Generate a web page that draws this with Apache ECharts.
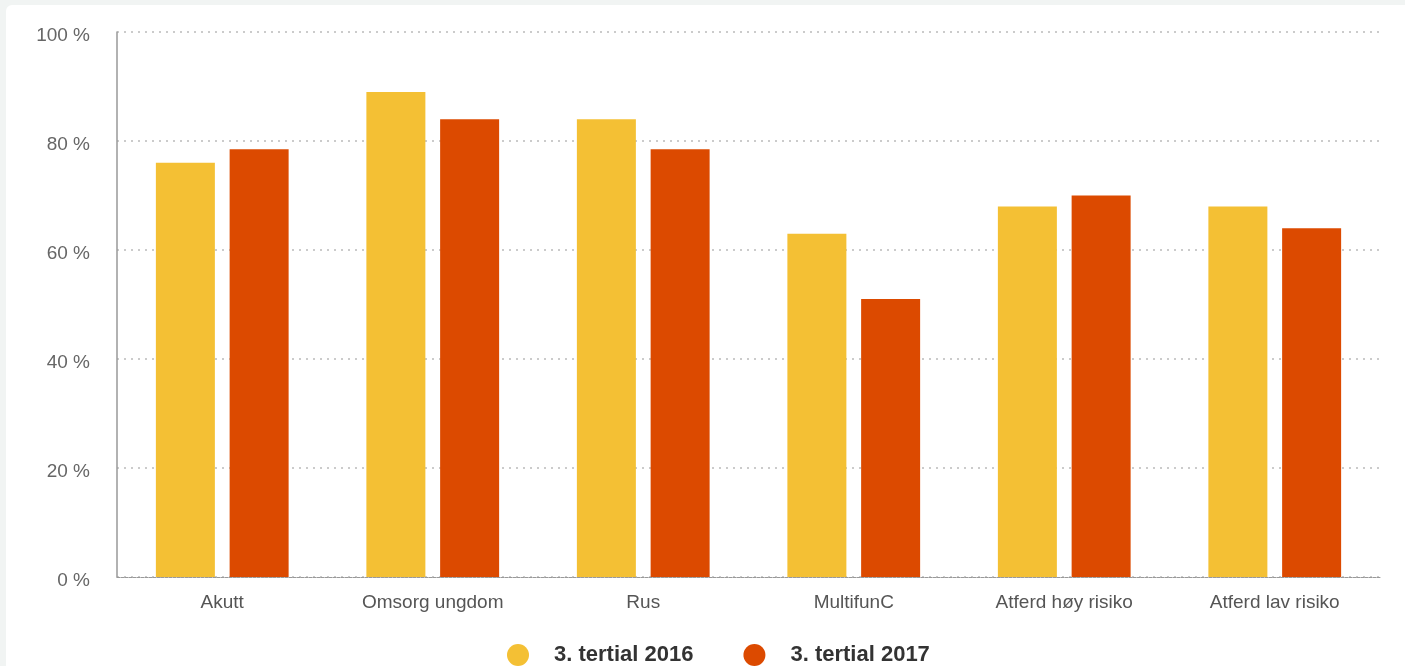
<!DOCTYPE html>
<html>
<head>
<meta charset="utf-8">
<script src="https://cdn.jsdelivr.net/npm/echarts@6/dist/echarts.min.js"></script>
<style>
  html, body { margin: 0; padding: 0; background: #f1f4f3; width: 1405px; height: 666px; overflow: hidden; }
  #panel { position: absolute; left: 6px; top: 5px; width: 1399px; height: 661px; background: #fff; border-radius: 6px 0 0 0; }
  #chart { width: 1399px; height: 661px; }
</style>
</head>
<body>
<div id="panel"><div id="chart"></div></div>
<script>
const categories = ['Akutt', 'Omsorg ungdom', 'Rus', 'MultifunC', 'Atferd høy risiko', 'Atferd lav risiko'];
const values2016 = [76, 89, 84, 63, 68, 68];
const values2017 = [78.5, 84, 78.5, 51, 70, 64];
const seriesNames = ['3. tertial 2016', '3. tertial 2017'];

const chart = echarts.init(document.getElementById('chart'), null, { renderer: 'canvas' });
chart.setOption({
  animation: false,
  color: ['#f4c034', '#dc4a00'],
  textStyle: { fontFamily: 'Liberation Sans, Arial, sans-serif' },
  grid: { left: 111, right: 25, top: 27, bottom: 89, containLabel: false },
  legend: {
    data: seriesNames,
    left: 496,
    top: 634,
    icon: 'circle',
    itemWidth: 22,
    itemHeight: 22,
    itemGap: 50,
    textStyle: { fontSize: 22, fontWeight: 'bold', color: '#333', padding: [0, 0, 0, 20] }
  },
  xAxis: {
    type: 'category',
    data: categories,
    axisLine: { show: true, lineStyle: { color: '#999', type: [3, 1], width: 1 } },
    axisTick: { show: false },
    axisLabel: { color: '#555', fontSize: 19, margin: 16 }
  },
  yAxis: {
    type: 'value',
    min: 0, max: 100, interval: 20,
    axisLine: { show: true, lineStyle: { color: '#999', width: 1.5 } },
    axisTick: { show: false },
    axisLabel: {
      color: '#666', fontSize: 19, margin: 27,
      formatter: function (v) { return '{a|' + v + ' %}'; },
      rich: { a: { color: '#666', fontSize: 19, padding: [8, 0, 0, 0] } }
    },
    splitLine: { show: true, lineStyle: { color: '#bbb', type: [2, 5], width: 1.5 } }
  },
  series: [
    { name: seriesNames[0], type: 'bar', data: values2016, barWidth: 59, barGap: '25%' },
    { name: seriesNames[1], type: 'bar', data: values2017, barWidth: 59, barGap: '25%' }
  ]
});
</script>
</body>
</html>
